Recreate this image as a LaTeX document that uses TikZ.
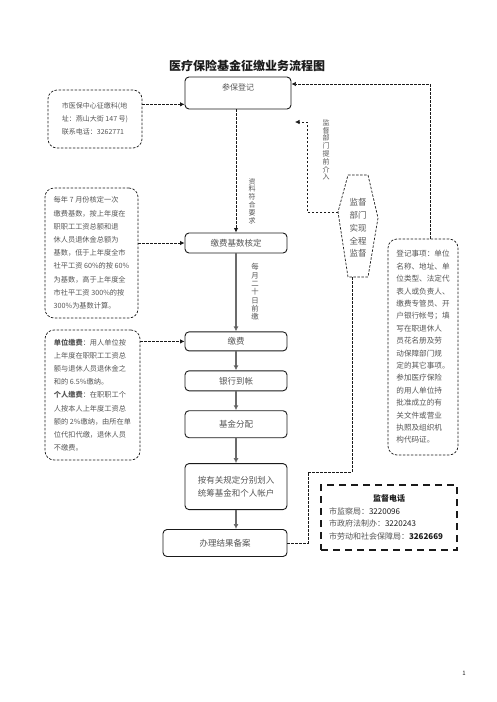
\documentclass[tikz,border=0pt]{standalone}
\usepackage{fontspec}
\setmainfont{Noto Sans CJK SC}
\usetikzlibrary{arrows.meta,positioning,calc}
\definecolor{ink}{HTML}{1A1A1A}
\definecolor{grey}{HTML}{555555}
\definecolor{rule}{HTML}{6B6B6B}
\tikzset{
  proc/.style={draw=ink,line width=0.9pt,rounded corners=4pt,minimum width=102pt,inner sep=0pt,align=center,text=grey,font=\fontsize{8.5}{13}\selectfont},
  note/.style={draw=ink,line width=0.7pt,dash pattern=on 2.5pt off 1.5pt,rounded corners=9pt,align=left,text=grey,inner xsep=7pt,inner ysep=0pt,font=\fontsize{7.2}{13.2}\selectfont},
  tel/.style={draw=ink,line width=1.6pt,dash pattern=on 7pt off 5pt,minimum width=136pt,minimum height=65pt,text width=120pt,inner sep=0pt,align=left,text=grey,font=\fontsize{8}{12.7}\selectfont},
  vlab/.style={align=center,inner sep=0pt,text=grey,font=\fontsize{7}{7.8}\selectfont},
  flow/.style={draw=rule,line width=1.6pt,-{Latex[length=5pt,width=5pt,fill=ink]}},
  dflow/.style={draw=ink,line width=0.7pt,dash pattern=on 2.5pt off 1.5pt,-{Latex[length=4.5pt,width=4.5pt]}},
  dline/.style={draw=ink,line width=0.7pt,dash pattern=on 2.5pt off 1.5pt}
}
\begin{document}
\begin{tikzpicture}[x=1pt,y=-1pt]
\useasboundingbox (0,0) rectangle (496,702);

\node[font=\fontsize{12}{14}\selectfont\bfseries,text=ink] (title) at (247,66) {医疗保险基金征缴业务流程图};

% main column
\node[proc,minimum width=106pt,minimum height=32pt,label={[text=grey,font=\fontsize{8}{10}\selectfont,anchor=north,yshift=-4pt]north:参保登记}] (reg) at (238,93) {};
\node[proc,minimum height=20pt] (base) at (236,243) {缴费基数核定};
\node[proc,minimum height=19pt,below=78pt of base] (pay) {缴费};
\node[proc,minimum height=20pt,below=19pt of pay] (bank) {银行到帐};
\node[proc,minimum height=27pt,below=19pt of bank] (alloc) {基金分配};
\node[proc,minimum height=46pt,below=25pt of alloc] (split) {按有关规定分别划入\\统筹基金和个人帐户};
\node[proc,minimum width=124pt,minimum height=27pt,below=19pt of split.south east,anchor=north east] (file) {办理结果备案};

% left notes
\node[note,minimum width=94pt,minimum height=58pt,font=\fontsize{7}{13}\selectfont] (office) at (95,119) {市医保中心征缴科(地\\址：燕山大街 147 号)\\联系电话：3262771};
\node[note,minimum width=93pt,minimum height=130pt] (rule) at (91.5,253) {每年 7 月份核定一次\\缴费基数，按上年度在\\职职工工资总额和退\\休人员退休金总额为\\基数，低于上年度全市\\社平工资 60\%的按 60\%\\为基数，高于上年度全\\市社平工资 300\%的按\\300\%为基数计算。};
\node[note,minimum width=95pt,minimum height=130pt] (rate) at (92.5,395) {\textbf{单位缴费}：用人单位按\\上年度在职职工工资总\\额与退休人员退休金之\\和的 6.5\%缴纳。\\\textbf{个人缴费}：在职职工个\\人按本人上年度工资总\\额的 2\%缴纳，由所在单\\位代扣代缴，退休人员\\不缴费。};

% right notes
\node[note,minimum width=70pt,minimum height=216pt,font=\fontsize{7.6}{12.4}\selectfont] (items) at (423,347) {登记事项：单位\\名称、地址、单\\位类型、法定代\\表人或负责人、\\缴费专管员、开\\户银行帐号；填\\写在职退休人\\员花名册及劳\\动保障部门规\\定的其它事项。\\参加医疗保险\\的用人单位持\\批准成立的有\\关文件或营业\\执照及组织机\\构代码证。};
\node[vlab,font=\fontsize{8.5}{12.8}\selectfont] (sup) at (358,228) {监督\\部门\\实现\\全程\\监督};
\coordinate (hl) at (338,212);
\coordinate (hb) at (352,277);
\draw[dline] (348,175) -- (368,175) -- (378,218) -- (368,277) -- (348,277) -- (hl) -- cycle;

\node[tel] (phone) at (389,517.5) {\makebox[120pt]{\textbf{\textcolor{ink}{监督电话}}}\\市监察局：\textcolor{ink}{3220096}\\市政府法制办：\textcolor{ink}{3220243}\\市劳动和社会保障局：\textcolor{ink}{\textbf{3262669}}};

% vertical labels
\node[vlab] (ok) at (252,201) {资\\料\\符\\合\\要\\求};
\node[vlab,font=\fontsize{7.4}{8.3}\selectfont] (due) at (255,292) {每\\月\\二\\十\\日\\前\\缴};
\node[vlab] (early) at (326,150) {监\\督\\部\\门\\提\\前\\介\\入};

\node[font=\fontsize{6}{7}\selectfont,text=ink] (pg) at (464,673) {1};

% connectors
\draw[dflow,line width=1pt] (reg.south -| base) -- (base.north);
\draw[flow] (base) -- (pay);
\draw[flow] (pay) -- (bank);
\draw[flow] (bank) -- (alloc);
\draw[flow] (alloc) -- (split);
\draw[flow] (split.south) -- (split.south |- file.north);

\draw[dflow] ($(office.north east)!.25!(office.south east)$) coordinate (c1) -- (c1 -| reg.west);
\draw[dflow] (rule.east |- base.west) -- (base.west);
\draw[dflow] (rate.east |- pay.west) -- (pay.west);

\coordinate (k1) at (430,84);
\draw[dflow] (k1 |- items.north) -- (k1) -- (k1 -| reg.east);
\coordinate (k2) at (307,122);
\coordinate (k3) at (295,122);
\draw[dflow] (hl) -| (k2) -- (k3);
\coordinate (k4) at (308,472);
\draw[dline] (file.east) -| (k4) -- (k4 -| hb) -- (hb);
\end{tikzpicture}
\end{document}
